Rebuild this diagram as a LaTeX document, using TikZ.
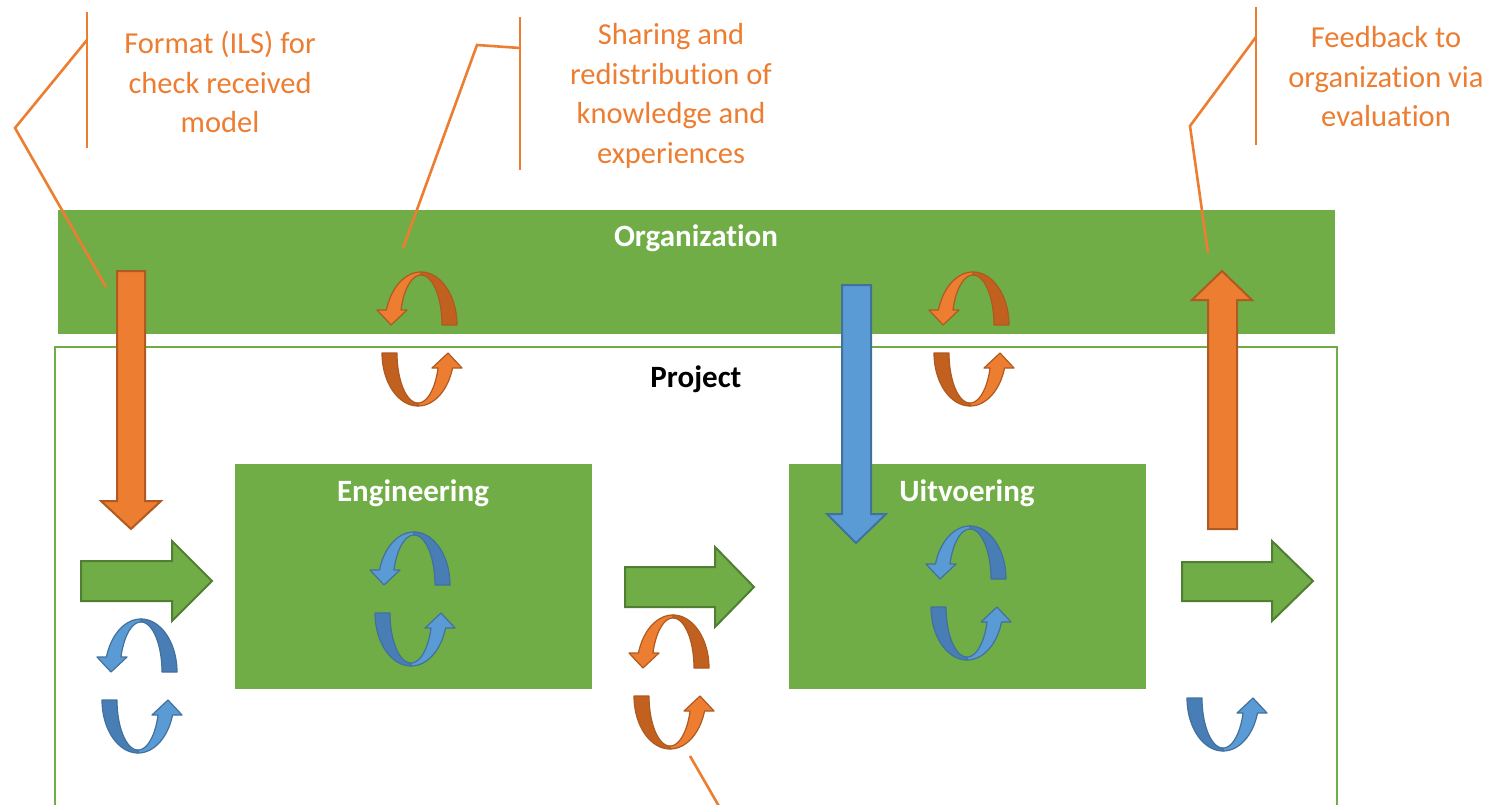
\documentclass[tikz,border=0pt]{standalone}
\usepackage{fontspec}
\setmainfont{Carlito}[Ligatures={NoCommon}]
\definecolor{grn}{HTML}{70AD47}
\definecolor{grnd}{HTML}{507E32}
\definecolor{org}{HTML}{ED7D31}
\definecolor{orgd}{HTML}{C2611F}
\definecolor{orgs}{HTML}{AE5A21}
\definecolor{blu}{HTML}{5B9BD5}
\definecolor{blud}{HTML}{487DB6}
\definecolor{blus}{HTML}{41719C}
\newcommand\cahalf[3]{%
  \filldraw[fill=#2, draw=#3, line width=1.2, line join=round]
    plot[domain=360:270,samples=30,variable=\t] ({61+36*cos(\t)},{65+53*sin(\t)})
    -- plot[domain=270:360,samples=30,variable=\t] ({61+21*cos(\t)},{65+50*sin(\t)}) -- cycle;
  \filldraw[fill=#1, draw=#3, line width=1.2, line join=round]
    plot[domain=270:196.44,samples=30,variable=\t] ({61+36*cos(\t)},{65+53*sin(\t)})
    -- (17,50) -- (31,65) -- (47,50)
    -- plot[domain=197.46:270,samples=30,variable=\t] ({61+21*cos(\t)},{65+50*sin(\t)}) -- cycle;
}
\newcommand\capair[5]{%
  \begin{scope}[shift={(#1,#2)}]
    \cahalf{#3}{#4}{#5}
    \begin{scope}[rotate around={180:(59.5,79)}]\cahalf{#3}{#4}{#5}\end{scope}
  \end{scope}}
\newcommand\calower[5]{%
  \begin{scope}[shift={(#1,#2)}]
    \begin{scope}[rotate around={180:(59.5,79)}]\cahalf{#3}{#4}{#5}\end{scope}
  \end{scope}}
\tikzset{
  box/.style={fill=grn, inner sep=0, anchor=north west},
  wlabel/.style={text=white, font=\fontsize{31}{37}\selectfont\bfseries},
  blabel/.style={text=black, font=\fontsize{31}{37}\selectfont\bfseries},
  callout/.style={text=org, align=center, font=\fontsize{30.5}{39.5}\selectfont},
  leader/.style={draw=org, line width=2.6},
  garrow/.style={fill=grn, draw=grnd, line width=2, line join=miter},
  oarrow/.style={fill=org, draw=orgs, line width=2, line join=miter},
  barrow/.style={fill=blu, draw=blus, line width=2, line join=miter},
}
\begin{document}
\begin{tikzpicture}[x=1pt,y=-1pt]
\useasboundingbox (0,0) rectangle (1499,805);
\clip (0,0) rectangle (1499,805);
\fill[white] (0,0) rectangle (1499,805);

% organization bar and project frame
\node[box, minimum width=1277, minimum height=124] (orgbar) at (58,210) {};
\node[wlabel] (orglabel) at (696,238) {Organization};
\draw[grn, line width=2.5] (55,347) rectangle (1337,840);
\node[blabel] (projlabel) at (696,379) {Project};

% engineering / uitvoering
\node[box, minimum width=357, minimum height=225] (eng) at (235,464) {};
\node[wlabel] (englabel) at (413,493) {Engineering};
\node[box, minimum width=357, minimum height=225] (uit) at (789,464) {};
\node[wlabel] (uitlabel) at (967,493) {Uitvoering};

% green block arrows
\draw[garrow] (81,561) -- (172,561) -- (172,541) -- (212,581) -- (172,621) -- (172,601) -- (81,601) -- cycle;
\draw[garrow] (625,567) -- (715,567) -- (715,547) -- (754,587) -- (715,627) -- (715,607) -- (625,607) -- cycle;
\draw[garrow] (1182,562) -- (1272,562) -- (1272,541) -- (1313,581) -- (1272,621) -- (1272,601) -- (1182,601) -- cycle;

% circular arrows
\capair{360}{260}{org}{orgd}{orgs}
\capair{912}{260}{org}{orgd}{orgs}
\capair{353}{520}{blu}{blud}{blus}
\capair{909}{514}{blu}{blud}{blus}
\capair{80}{607}{blu}{blud}{blus}
\capair{612}{603}{org}{orgd}{orgs}
\calower{1165}{605}{blu}{blud}{blus}

% big vertical arrows
\draw[oarrow] (117,271) -- (145,271) -- (145,501) -- (161,501) -- (131,529) -- (101,501) -- (117,501) -- cycle;
\draw[barrow] (842,285) -- (871,285) -- (871,514) -- (886,514) -- (856,543) -- (827,514) -- (842,514) -- cycle;
\draw[oarrow] (1208,529) -- (1237,529) -- (1237,300) -- (1252,300) -- (1222,271) -- (1192,300) -- (1208,300) -- cycle;

% callouts
\node[callout] (fmt) at (220,82) {Format (ILS) for\\check received\\model};
\coordinate (fmtA) at (87,12);
\coordinate (fmtB) at (87,148);
\coordinate (fmtC) at (87,40);
\coordinate (fmtD) at (15,128);
\coordinate (fmtE) at (106,287);
\draw[leader] (fmtA) -- (fmtB);
\draw[leader] (fmtC) -- (fmtD) -- (fmtE);

\node[callout] (shr) at (671,96) {Sharing and\\redistribution of\\knowledge and\\experiences};
\coordinate (shrA) at (520,17);
\coordinate (shrB) at (520,170);
\coordinate (shrC) at (520,48);
\coordinate (shrD) at (477,45);
\coordinate (shrE) at (403,248);
\draw[leader] (shrA) -- (shrB);
\draw[leader] (shrC) -- (shrD) -- (shrE);

\node[callout] (fbk) at (1386,77) {Feedback to\\organization via\\evaluation};
\coordinate (fbkA) at (1256,7);
\coordinate (fbkB) at (1256,145);
\coordinate (fbkC) at (1256,37);
\coordinate (fbkD) at (1190,126);
\coordinate (fbkE) at (1208,253);
\draw[leader] (fbkA) -- (fbkB);
\draw[leader] (fbkC) -- (fbkD) -- (fbkE);

\coordinate (botA) at (690,756);
\coordinate (botB) at (720,808);
\draw[leader] (botA) -- (botB);
\end{tikzpicture}
\end{document}
